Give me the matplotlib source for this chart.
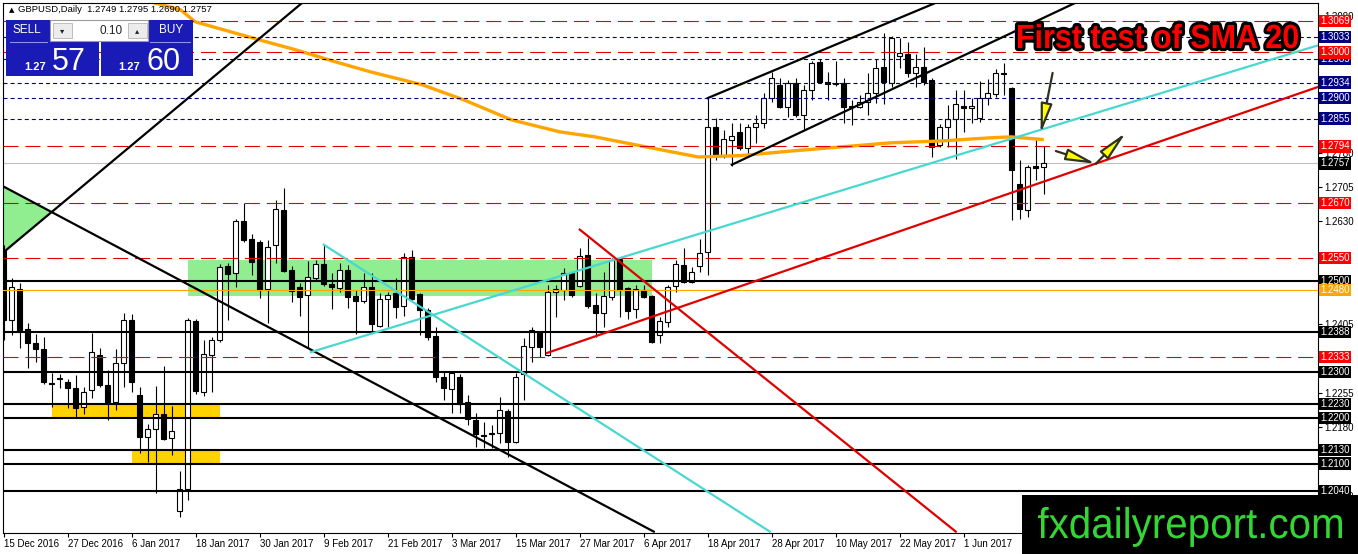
import matplotlib
matplotlib.use('Agg')
import matplotlib.pyplot as plt
import matplotlib.transforms as mtransforms
from matplotlib.patches import Rectangle, Polygon, PathPatch
from matplotlib.textpath import TextPath
from matplotlib.font_manager import FontProperties

plt.rcParams['font.family'] = ['Liberation Sans', 'DejaVu Sans']
plt.rcParams['lines.scale_dashes'] = False

# daily GBPUSD candles, 15 Dec 2016 -> mid Jun 2017
opens = [
    1.2568, 1.2415, 1.2482, 1.2395, 1.2364, 1.2351, 1.2277, 1.2288, 1.2279, 1.2266,
    1.2224, 1.2261, 1.2338, 1.2272, 1.2235, 1.2320, 1.2415, 1.2250, 1.2158, 1.2176,
    1.2209, 1.2156, 1.1996, 1.2045, 1.2412, 1.2257, 1.2338, 1.2371, 1.2533, 1.2517,
    1.2631, 1.2592, 1.2585, 1.2482, 1.2579, 1.2655, 1.2524, 1.2487, 1.2469, 1.2506,
    1.2537, 1.2493, 1.2485, 1.2524, 1.2467, 1.2456, 1.2487, 1.2401, 1.2461, 1.2474,
    1.2445, 1.2552, 1.2471, 1.2436, 1.2380, 1.2290, 1.2263, 1.2290, 1.2235, 1.2196,
    1.2163, 1.2165, 1.2167, 1.2215, 1.2147, 1.2296, 1.2355, 1.2386, 1.2338, 1.2476,
    1.2480, 1.2517, 1.2489, 1.2557, 1.2447, 1.2430, 1.2465, 1.2548, 1.2485, 1.2439,
    1.2480, 1.2467, 1.2382, 1.2410, 1.2489, 1.2535, 1.2498, 1.2533, 1.2563, 1.2837,
    1.2776, 1.2809, 1.2826, 1.2791, 1.2837, 1.2846, 1.2901, 1.2929, 1.2881, 1.2933,
    1.2863, 1.2918, 1.2979, 1.2935, 1.2931, 1.2933, 1.2883, 1.2881, 1.2892, 1.2911,
    1.2968, 1.2933, 1.2992, 1.2997, 1.2955, 1.2968, 1.2940, 1.2798, 1.2837, 1.2855,
    1.2883, 1.2879, 1.2857, 1.2901, 1.2909, 1.2955, 1.2922, 1.2712, 1.2655, 1.2752,
    1.2749]
highs = [
    1.2579, 1.2506, 1.2496, 1.2408, 1.2384, 1.2377, 1.2299, 1.2296, 1.2285, 1.2294,
    1.2268, 1.2386, 1.2353, 1.2305, 1.2351, 1.2430, 1.2428, 1.2268, 1.2187, 1.2270,
    1.2314, 1.2226, 1.2084, 1.2419, 1.2417, 1.2371, 1.2377, 1.2537, 1.2539, 1.2636,
    1.2671, 1.2603, 1.2590, 1.2590, 1.2677, 1.2703, 1.2533, 1.2496, 1.2544, 1.2546,
    1.2579, 1.2517, 1.2539, 1.2535, 1.2480, 1.2517, 1.2517, 1.2474, 1.2476, 1.2506,
    1.2561, 1.2568, 1.2474, 1.2441, 1.2399, 1.2303, 1.2301, 1.2296, 1.2250, 1.2211,
    1.2191, 1.2185, 1.2246, 1.2220, 1.2299, 1.2375, 1.2399, 1.2388, 1.2491, 1.2491,
    1.2528, 1.2520, 1.2572, 1.2594, 1.2474, 1.2520, 1.2550, 1.2552, 1.2487, 1.2491,
    1.2491, 1.2469, 1.2421, 1.2491, 1.2546, 1.2572, 1.2531, 1.2592, 1.2901, 1.2857,
    1.2830, 1.2846, 1.2846, 1.2844, 1.2863, 1.2911, 1.2957, 1.2944, 1.2940, 1.2944,
    1.2929, 1.2981, 1.2986, 1.2957, 1.2981, 1.2944, 1.2896, 1.2907, 1.2955, 1.2986,
    1.3043, 1.3036, 1.3032, 1.3023, 1.2997, 1.3012, 1.2944, 1.2844, 1.2885, 1.2918,
    1.2918, 1.2901, 1.2938, 1.2942, 1.2964, 1.2977, 1.2924, 1.2765, 1.2754, 1.2809,
    1.2795]
lows = [
    1.2371, 1.2382, 1.2353, 1.2309, 1.2323, 1.2274, 1.2224, 1.2266, 1.2222, 1.2202,
    1.2209, 1.2244, 1.2268, 1.2196, 1.2218, 1.2268, 1.2257, 1.2123, 1.2104, 1.2036,
    1.2152, 1.2119, 1.1983, 1.2020, 1.2253, 1.2248, 1.2257, 1.2366, 1.2415, 1.2487,
    1.2585, 1.2513, 1.2463, 1.2408, 1.2539, 1.2520, 1.2454, 1.2423, 1.2353, 1.2502,
    1.2489, 1.2439, 1.2476, 1.2441, 1.2384, 1.2452, 1.2386, 1.2399, 1.2399, 1.2419,
    1.2423, 1.2458, 1.2382, 1.2371, 1.2279, 1.2239, 1.2211, 1.2211, 1.2185, 1.2137,
    1.2134, 1.2134, 1.2145, 1.2115, 1.2145, 1.2239, 1.2323, 1.2334, 1.2336, 1.2421,
    1.2458, 1.2465, 1.2487, 1.2441, 1.2377, 1.2399, 1.2458, 1.2421, 1.2417, 1.2419,
    1.2463, 1.2364, 1.2364, 1.2399, 1.2476, 1.2496, 1.2496, 1.2520, 1.2513, 1.2765,
    1.2769, 1.2752, 1.2787, 1.2778, 1.2802, 1.2835, 1.2892, 1.2879, 1.2859, 1.2859,
    1.2833, 1.2896, 1.2933, 1.2896, 1.2927, 1.2846, 1.2841, 1.2879, 1.2863, 1.2890,
    1.2887, 1.2925, 1.2966, 1.2946, 1.2925, 1.2929, 1.2771, 1.2793, 1.2793, 1.2767,
    1.2826, 1.2846, 1.2848, 1.2885, 1.2903, 1.2907, 1.2633, 1.2636, 1.2640, 1.2721,
    1.2690]
closes = [
    1.2415, 1.2487, 1.2390, 1.2364, 1.2351, 1.2279, 1.2274, 1.2285, 1.2266, 1.2222,
    1.2257, 1.2345, 1.2272, 1.2233, 1.2320, 1.2415, 1.2279, 1.2158, 1.2176, 1.2209,
    1.2154, 1.2172, 1.2045, 1.2415, 1.2259, 1.2340, 1.2371, 1.2531, 1.2515, 1.2631,
    1.2590, 1.2542, 1.2480, 1.2574, 1.2658, 1.2522, 1.2478, 1.2465, 1.2509, 1.2537,
    1.2493, 1.2487, 1.2524, 1.2465, 1.2456, 1.2487, 1.2406, 1.2461, 1.2469, 1.2443,
    1.2552, 1.2461, 1.2436, 1.2377, 1.2290, 1.2266, 1.2299, 1.2231, 1.2198, 1.2165,
    1.2161, 1.2167, 1.2218, 1.2147, 1.2290, 1.2358, 1.2393, 1.2355, 1.2476, 1.2482,
    1.2517, 1.2469, 1.2555, 1.2445, 1.2430, 1.2467, 1.2546, 1.2480, 1.2434, 1.2482,
    1.2465, 1.2366, 1.2412, 1.2487, 1.2537, 1.2498, 1.2520, 1.2561, 1.2837, 1.2776,
    1.2811, 1.2817, 1.2791, 1.2837, 1.2846, 1.2901, 1.2944, 1.2881, 1.2933, 1.2863,
    1.2918, 1.2977, 1.2935, 1.2931, 1.2933, 1.2881, 1.2881, 1.2892, 1.2911, 1.2966,
    1.2935, 1.3032, 1.2999, 1.2955, 1.2968, 1.2935, 1.2793, 1.2837, 1.2855, 1.2887,
    1.2879, 1.2883, 1.2901, 1.2911, 1.2955, 1.2953, 1.2743, 1.2658, 1.2749, 1.2747,
    1.2757]

# moving average (orange), read at a few bar positions
ma_bar = [10, 22.1, 23.9, 32, 36.4, 41.5, 45.9, 52.3, 57.5, 63.5, 69.5, 73.9,
          80.3, 86.8, 92.1, 98.4, 104.6, 110.9, 117.1, 123.4, 125.9, 130]
ma_val = [1.3150, 1.3093, 1.3067, 1.3027, 1.3006, 1.2979, 1.2957, 1.2929, 1.2896,
          1.2852, 1.2826, 1.2815, 1.2793, 1.2771, 1.2774, 1.2784, 1.2793, 1.2802,
          1.2806, 1.2813, 1.2815, 1.2809]

red_levels = [1.3069, 1.3000, 1.2794, 1.2670, 1.2550, 1.2333]
navy_levels = [1.3033, 1.2985, 1.2934, 1.2900, 1.2855]
black_levels = [1.2500, 1.2388, 1.2300, 1.2230, 1.2200, 1.2130, 1.2100, 1.2040]
orange_level = 1.2480

sell_price = 1.2757
buy_price = 1.2760
lot = '0.10'

# trend lines: ((bar, price), (bar, price))
black_lines = [((0, 1.2706), (81.25, 1.1951)),
               ((0, 1.2563), (37.75, 1.3115)),
               ((88, 1.2900), (117.4, 1.3115)),
               ((91, 1.2754), (134.75, 1.3115))]
cyan_lines = [((40, 1.2579), (95.75, 1.1951)),
              ((38.4, 1.2344), (164.4, 1.3016))]
red_lines = [((72, 1.2612), (119, 1.1951)),
             ((67.9, 1.2342), (164.4, 1.2925))]

green_zone = (23, 81, 1.2467, 1.2546)
yellow_zones = [(6, 27, 1.2202, 1.2228), (16, 27, 1.2101, 1.2130)]
green_tri = [(0, 1.2706), (5.96, 1.2651), (0, 1.2563)]

arrows = [((131.1, 1.2955), (129.6, 1.2822)),
          ((131.5, 1.2784), (136.5, 1.2756)),
          ((136.5, 1.2756), (140.25, 1.2824))]

xlabels = ['15 Dec 2016', '27 Dec 2016', '6 Jan 2017', '18 Jan 2017', '30 Jan 2017',
           '9 Feb 2017', '21 Feb 2017', '3 Mar 2017', '15 Mar 2017', '27 Mar 2017',
           '6 Apr 2017', '18 Apr 2017', '28 Apr 2017', '10 May 2017', '22 May 2017',
           '1 Jun 2017']

W, H = 1358, 554
fig = plt.figure(figsize=(W / 100, H / 100), dpi=100)
fig.patch.set_facecolor('white')
ax = fig.add_axes([3 / W, 21 / H, 1315 / W, 530 / H])
ax.set_xlim(-0.1, 164.275)
ax.set_ylim(1.1948, 1.3108)
for s in ax.spines.values():
    s.set_linewidth(0.8)

# zones
ax.add_patch(Rectangle((green_zone[0], green_zone[2]), green_zone[1] - green_zone[0],
                       green_zone[3] - green_zone[2], fc='#90ee90', ec='none', zorder=0.5))
for z in yellow_zones:
    ax.add_patch(Rectangle((z[0], z[2]), z[1] - z[0], z[3] - z[2], fc='#ffd200', ec='none', zorder=0.5))
ax.add_patch(Polygon(green_tri, closed=True, fc='#90ee90', ec='none', zorder=0.5))

# candles
idx = list(range(len(closes)))
ax.vlines(idx, lows, highs, color='black', lw=0.8, zorder=2)
bottoms = [min(o, c) for o, c in zip(opens, closes)]
heights = [max(abs(c - o), 0.00004) for o, c in zip(opens, closes)]
cols = ['white' if c >= o else 'black' for o, c in zip(opens, closes)]
ax.bar(idx, heights, bottom=bottoms, width=0.6, color=cols, edgecolor='black', lw=0.8, zorder=2.1)

# levels
for v in red_levels:
    ax.axhline(v, color='#e00000', lw=0.8, ls=(0, (10.8, 5.0)), zorder=3)
for v in navy_levels:
    ax.axhline(v, color='#000080', lw=0.8, ls=(0, (2.9, 2.2)), zorder=3)
for v in black_levels:
    ax.axhline(v, color='black', lw=1.5, zorder=3)
ax.axhline(orange_level, color='#ffa500', lw=0.8, zorder=3)
ax.axhline(closes[-1], color='#c0c0c0', lw=0.8, zorder=1.5)

# trend lines
for (b0, p0), (b1, p1) in black_lines:
    ax.plot([b0, b1], [p0, p1], color='black', lw=1.6, zorder=3.5)
for (b0, p0), (b1, p1) in cyan_lines:
    ax.plot([b0, b1], [p0, p1], color='#48d8d0', lw=1.6, zorder=3.5)
for (b0, p0), (b1, p1) in red_lines:
    ax.plot([b0, b1], [p0, p1], color='#e00000', lw=1.6, zorder=3.5)

ax.plot(ma_bar, ma_val, color='#ffa500', lw=2.4, zorder=2.5, solid_capstyle='butt')

for (b0, p0), (b1, p1) in arrows:
    ax.annotate('', xy=(b1, p1), xytext=(b0, p0), zorder=6,
                arrowprops=dict(arrowstyle='-|>,head_length=1.8,head_width=0.35',
                                mutation_scale=10, fc='#ffff00', ec='#303020', lw=1.6,
                                shrinkA=0, shrinkB=0))

# axes ticks; plain scale labels hidden where a level label sits on top
all_levels = red_levels + navy_levels + black_levels + [orange_level, closes[-1]]
yt = [1.2030 + 0.0075 * k for k in range(15)]
ax.set_yticks(yt)
ax.set_yticklabels(['' if min(abs(v - l) for l in all_levels) < 0.0009 else '%.4f' % v for v in yt])
ax.tick_params(axis='y', left=False, right=True, labelleft=False, labelright=True,
               labelsize=7, length=3, pad=1.5, width=0.8)
ax.set_xticks(range(0, 8 * len(xlabels), 8))
ax.set_xticklabels(xlabels, ha='left')
ax.tick_params(axis='x', labelsize=7, length=3, pad=1.5, width=0.8)

lbl_tr = mtransforms.blended_transform_factory(ax.transAxes, ax.transData)

def level_label(v, bg, fg='white'):
    ax.text(1.0015, v, '%.4f' % v, transform=lbl_tr, ha='left', va='center', fontsize=7,
            color=fg, clip_on=False, zorder=5,
            bbox=dict(boxstyle='square,pad=0.12', fc=bg, ec='none'))

for v in navy_levels:
    level_label(v, '#000080')
for v in red_levels:
    level_label(v, '#ff0000')
for v in black_levels:
    level_label(v, 'black')
level_label(orange_level, '#ffa500')
level_label(closes[-1], 'black')

# overlay in pixel units (y down)
ov = fig.add_axes([0, 0, 1, 1], zorder=10)
ov.patch.set_alpha(0)
ov.axis('off')

def path_text(s, x0, base, width, em, fp, **kw):
    tp = TextPath((0, 0), s, size=1, prop=fp)
    ext = tp.get_extents()
    tr = (mtransforms.Affine2D().translate(-ext.x0, 0).scale(width / ext.width, -em)
          .translate(x0, base) + ov.transData)
    ov.add_patch(PathPatch(tp, transform=tr, **kw))

ov.text(9, 10, '\u25b2', fontsize=5, va='center', ha='left', family=['DejaVu Sans'])
ov.text(18, 10, 'GBPUSD,Daily  %.4f %.4f %.4f %.4f' % (opens[-1], highs[-1], lows[-1], closes[-1]),
        fontsize=6.8, va='center', ha='left')

blue = '#1a1ab6'
ov.add_patch(Rectangle((6, 20), 93, 56, fc=blue, ec='none'))
ov.add_patch(Rectangle((101, 20), 92, 56, fc=blue, ec='none'))
ov.add_patch(Rectangle((50, 20), 98, 21, fc='white', ec='#9a9a9a', lw=0.8))
ov.add_patch(Rectangle((53, 23), 19, 15, fc='#ececec', ec='#b4b4b4', lw=0.6))
ov.add_patch(Rectangle((128, 23), 19, 15, fc='#ececec', ec='#b4b4b4', lw=0.6))
ov.text(62.5, 31, '\u25be', fontsize=6, ha='center', va='center', color='#222', family=['DejaVu Sans'])
ov.text(137.5, 31, '\u25b4', fontsize=6, ha='center', va='center', color='#222', family=['DejaVu Sans'])
ov.text(123, 31, lot, fontsize=8.5, ha='right', va='center', color='#222')
ov.text(27, 30, 'SELL', fontsize=8.5, ha='center', va='center', color='white')
ov.text(171, 30, 'BUY', fontsize=8.5, ha='center', va='center', color='white')
ov.plot([10, 47], [41.5, 41.5], color='#9090e8', lw=0.8)
ov.plot([150, 190], [41.5, 41.5], color='#9090e8', lw=0.8)
sp, bp = '%.4f' % sell_price, '%.4f' % buy_price
ov.text(46, 70, sp[:4], fontsize=8, weight='bold', ha='right', va='baseline', color='white')
ov.text(52, 70, sp[4:], fontsize=22, ha='left', va='baseline', color='white')
ov.text(140, 70, bp[:4], fontsize=8, weight='bold', ha='right', va='baseline', color='white')
ov.text(146, 70, bp[4:], fontsize=22, ha='left', va='baseline', color='white')

# headline
bold = FontProperties(family='Liberation Sans', weight='bold')
path_text('First test of SMA 20', 1018, 48, 280, 33.5, bold, fc='none', ec='black', lw=4.5, joinstyle='round')
path_text('First test of SMA 20', 1018, 48, 280, 33.5, bold, fc='#ff0000', ec='none')

# logo
ov.add_patch(Rectangle((1022, 495), 336, 59, fc='black', ec='none'))
path_text('fxdailyreport.com', 1038, 538, 304, 43, FontProperties(family='Liberation Sans'),
          fc='#34d634', ec='none')

ov.set_xlim(0, W)
ov.set_ylim(H, 0)

fig.savefig('out.png', dpi=100)
